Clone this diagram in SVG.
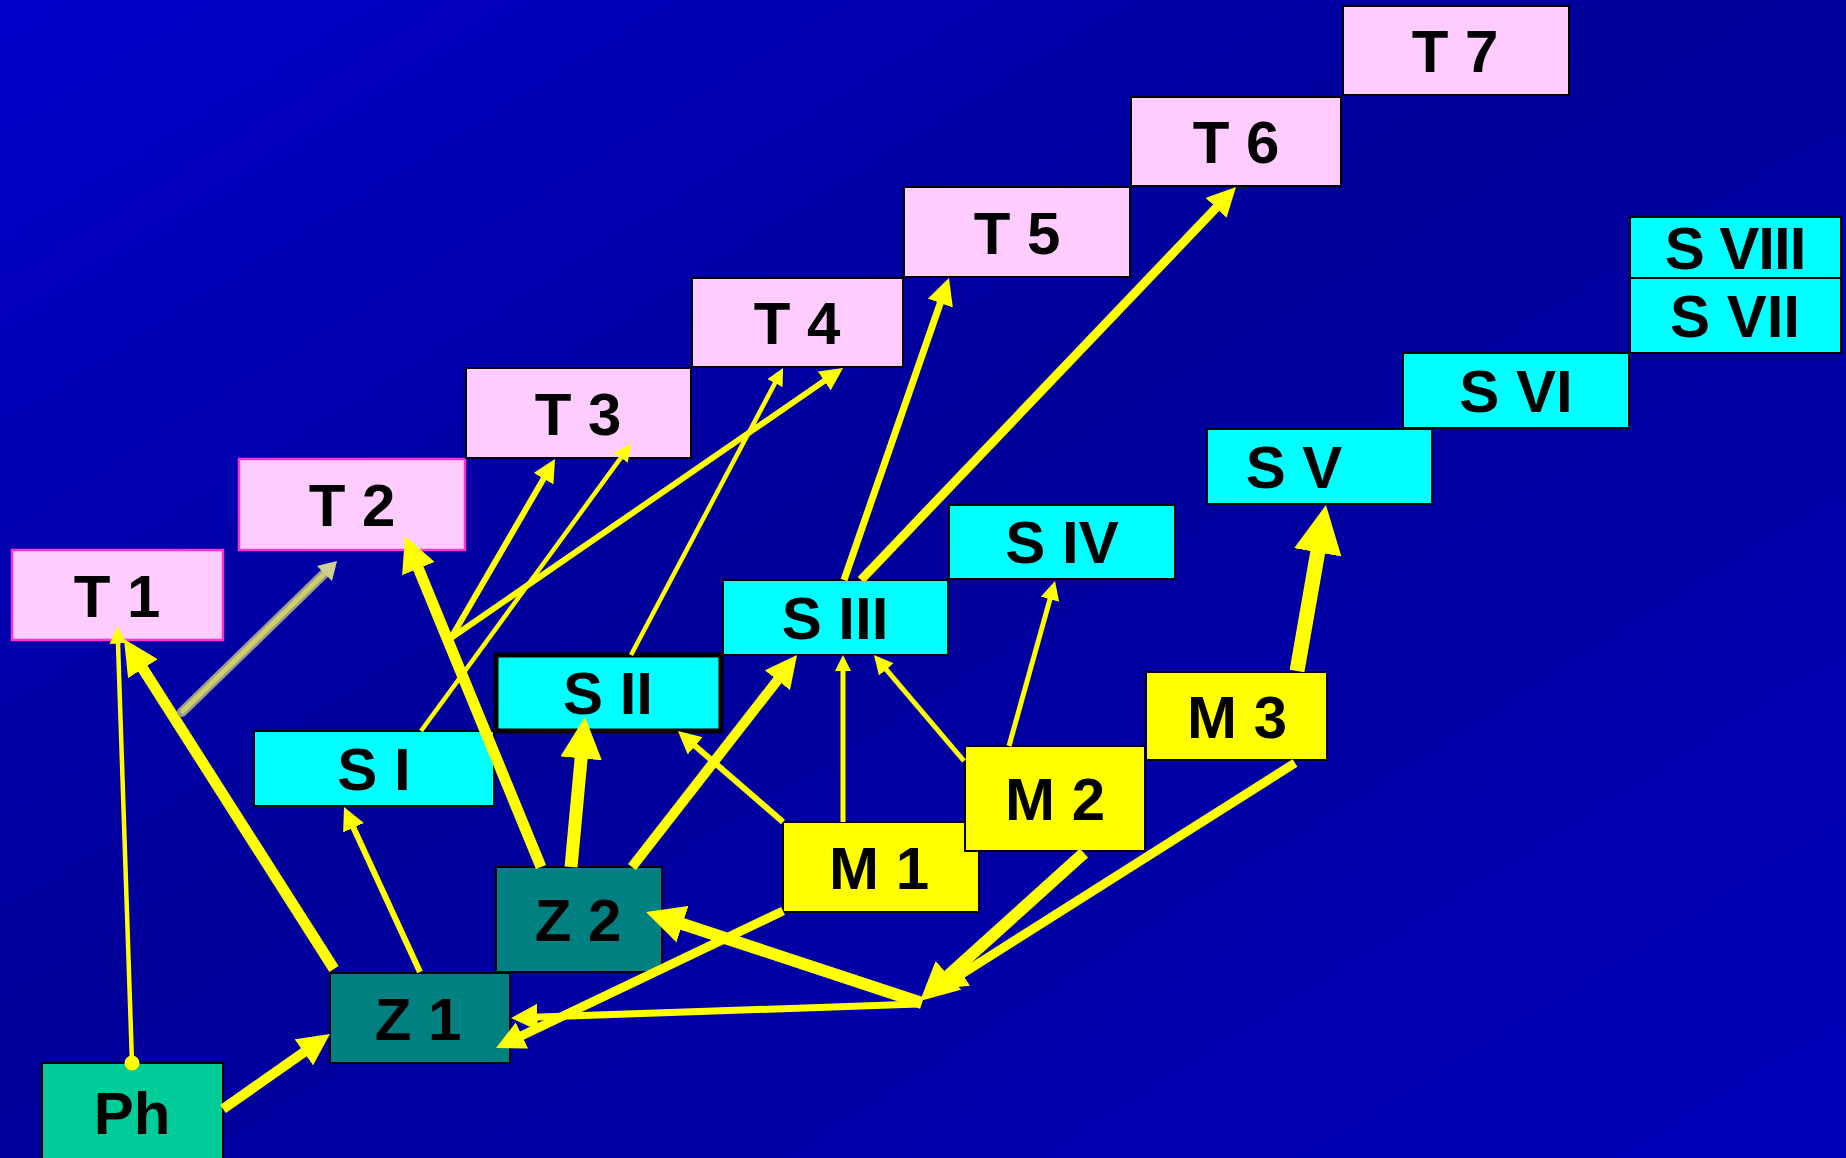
<svg xmlns="http://www.w3.org/2000/svg" width="1846" height="1158" viewBox="0 0 1846 1158">
<defs>
<linearGradient id="bg" x1="0" y1="0" x2="1" y2="1">
<stop offset="0" stop-color="#0000CC"/>
<stop offset="0.45" stop-color="#000099"/>
<stop offset="1" stop-color="#0000BB"/>
</linearGradient>
<marker id="ah" viewBox="0 0 10 10" refX="6.875" refY="5" markerWidth="3.2" markerHeight="3.2" orient="auto">
<path d="M0,0 L10,5 L0,10 z" fill="#FFFF00"/>
</marker>
<marker id="ahs" viewBox="0 0 10 10" refX="7.37" refY="5" markerWidth="3.8" markerHeight="3.8" orient="auto">
<path d="M0,0 L10,5 L0,10 z" fill="#FFFF00"/>
</marker>
</defs>
<style>
text{font-family:"Liberation Sans",Arial,sans-serif;font-weight:bold;font-size:60px;fill:#000;text-anchor:middle}
.t rect{fill:#FFCCFF;stroke:#000;stroke-width:2}
.tp rect{fill:#FFCCFF;stroke:#FF33CC;stroke-width:2.5}
.s rect{fill:#00FFFF;stroke:#000;stroke-width:2}
.z rect{fill:#008080;stroke:#000;stroke-width:2}
.m rect{fill:#FFFF00;stroke:#000;stroke-width:2}
.c line{stroke:#FFFF00;stroke-linecap:butt;marker-end:url(#ah)}
.c line.sm{marker-end:url(#ahs)}
</style>
<rect x="0" y="0" width="1846" height="1158" fill="url(#bg)"/>

<g id="T1" class="tp"><rect x="12" y="550" width="211" height="90"/><text x="117" y="617">T 1</text></g>
<g id="T2" class="tp"><rect x="239" y="459" width="226" height="91"/><text x="352" y="526">T 2</text></g>
<g id="T3" class="t"><rect x="466" y="368" width="225" height="90"/><text x="578" y="435">T 3</text></g>
<g id="T4" class="t"><rect x="692" y="278" width="211" height="89"/><text x="797" y="344">T 4</text></g>
<g id="T5" class="t"><rect x="904" y="187" width="226" height="90"/><text x="1017" y="254">T 5</text></g>
<g id="T6" class="t"><rect x="1131" y="97" width="210" height="89"/><text x="1236" y="163">T 6</text></g>
<g id="T7" class="t"><rect x="1343" y="6" width="226" height="89"/><text x="1455" y="72">T 7</text></g>

<g id="SI" class="s"><rect x="254" y="731" width="240" height="75"/><text x="374" y="790">S I</text></g>
<g id="SII" class="s"><rect x="496" y="655" width="225" height="76" style="stroke-width:5"/><text x="608" y="714">S II</text></g>
<g id="SIII" class="s"><rect x="723" y="580" width="225" height="75"/><text x="835" y="639">S III</text></g>
<g id="SIV" class="s"><rect x="949" y="505" width="226" height="74"/><text x="1062" y="563">S IV</text></g>
<g id="SV" class="s"><rect x="1207" y="429" width="225" height="75"/><text x="1294" y="488">S V</text></g>
<g id="SVI" class="s"><rect x="1403" y="353" width="226" height="75"/><text x="1516" y="412">S VI</text></g>
<g id="SVII" class="s"><rect x="1630" y="278" width="211" height="75"/><text x="1735" y="337">S VII</text></g>
<g id="SVIII" class="s"><rect x="1630" y="217" width="211" height="61"/><text x="1735" y="269" letter-spacing="-1">S VIII</text></g>

<g id="Ph"><rect x="42" y="1063" width="181" height="110" fill="#00CC99" stroke="#000" stroke-width="2"/><text x="132" y="1134">Ph</text></g>
<g id="Z1" class="z"><rect x="330" y="973" width="180" height="90"/><text x="418" y="1040">Z 1</text></g>
<g id="Z2" class="z"><rect x="496" y="867" width="166" height="105"/><text x="578" y="941">Z 2</text></g>
<g id="M1" class="m"><rect x="783" y="822" width="196" height="90"/><text x="879" y="889">M 1</text></g>
<g id="M2" class="m"><rect x="965" y="746" width="180" height="105"/><text x="1055" y="820">M 2</text></g>
<g id="M3" class="m"><rect x="1146" y="672" width="181" height="88"/><text x="1237" y="738">M 3</text></g>

<g id="connectors" class="c">
<circle cx="132" cy="1063" r="7.5" fill="#FFFF00"/>
<line class="sm" x1="132" y1="1063" x2="117.6" y2="631" stroke-width="4.5"/>
<line x1="223" y1="1109" x2="321.8" y2="1039.7" stroke-width="10"/>
<line x1="334" y1="969" x2="129.9" y2="648.3" stroke-width="11"/>
<line class="sm" x1="420" y1="972" x2="346.5" y2="812.4" stroke-width="6"/>
<line x1="541" y1="867" x2="409.2" y2="546.2" stroke-width="11"/>
<line x1="571" y1="867" x2="583.8" y2="729.9" stroke-width="13"/>
<line x1="632" y1="867" x2="790.9" y2="662.9" stroke-width="10"/>
<line class="sm" x1="783" y1="822" x2="682.5" y2="734.9" stroke-width="6"/>
<line x1="843" y1="822" x2="843" y2="660" stroke-width="5"/>
<line class="sm" x1="964" y1="761" x2="877.2" y2="658.8" stroke-width="5"/>
<line class="sm" x1="1009" y1="746" x2="1053.7" y2="585.8" stroke-width="5"/>
<line x1="1297" y1="671" x2="1323.4" y2="519.8" stroke-width="15"/>
<line x1="783" y1="911" x2="504.1" y2="1044.1" stroke-width="9"/>
<line x1="1295" y1="763" x2="945.6" y2="984.2" stroke-width="9"/>
<line x1="1084" y1="853" x2="928.9" y2="993" stroke-width="12"/>
<line x1="922" y1="1003" x2="657.4" y2="915.8" stroke-width="12"/>
<line class="sm" x1="918" y1="1004" x2="518" y2="1017.8" stroke-width="7"/>
<line class="sm" x1="421" y1="731" x2="628.3" y2="447.6" stroke-width="4.5"/>
<line class="sm" x1="451" y1="638" x2="552" y2="464.2" stroke-width="6"/>
<line class="sm" x1="451" y1="638" x2="838.1" y2="371.4" stroke-width="6"/>
<line class="sm" x1="631" y1="655" x2="780.9" y2="372" stroke-width="4.5"/>
<line class="sm" x1="844" y1="580" x2="946.7" y2="284.6" stroke-width="7"/>
<line x1="861" y1="580" x2="1229.8" y2="193.5" stroke-width="9"/>
</g>
<g id="gray-arrow">
<line x1="182" y1="712" x2="330" y2="568" stroke="#9A9A90" stroke-width="10" stroke-linecap="round"/>
<line x1="183" y1="711" x2="330" y2="568" stroke="#CFCF6A" stroke-width="5" stroke-linecap="round"/>
<polygon points="337,561 317,566 332,581" fill="#D0D090"/>
</g>
</svg>
